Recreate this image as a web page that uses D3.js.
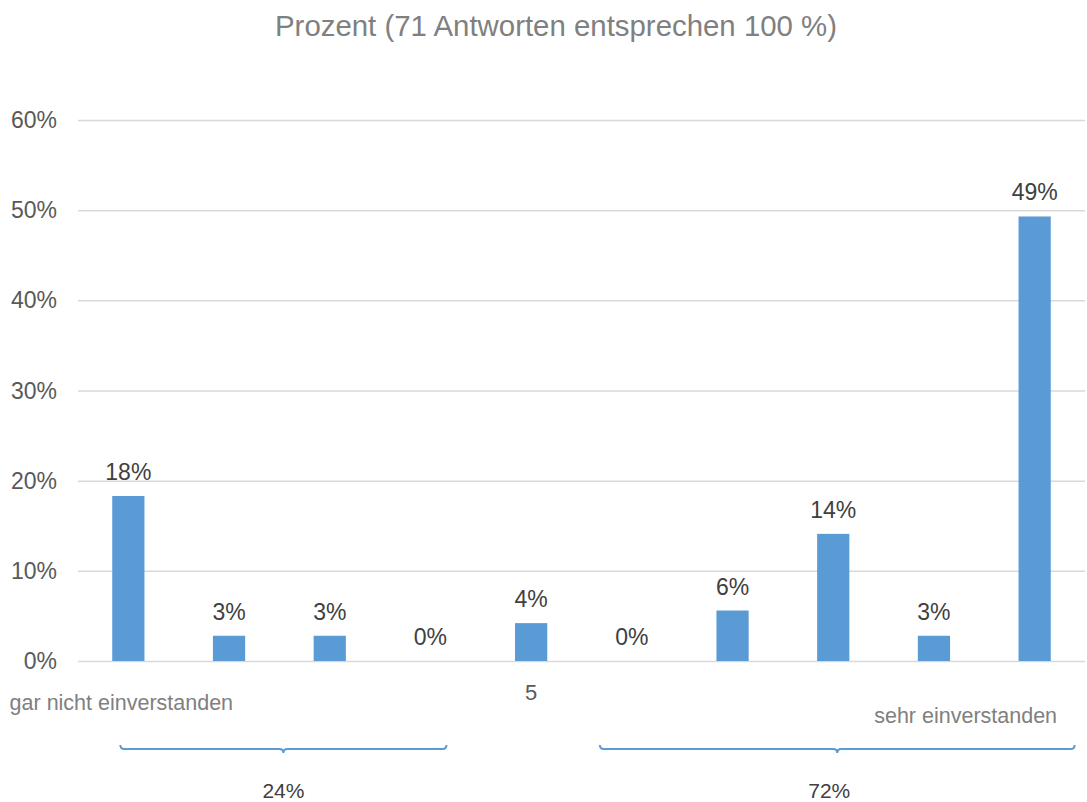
<!DOCTYPE html>
<html>
<head>
<meta charset="utf-8">
<script src="https://cdn.jsdelivr.net/npm/d3@7"></script>
<style>
	body { margin: 0; background: #fff; }
	svg text { font-family: "Liberation Sans", Arial, sans-serif; }
</style>
</head>
<body>
<div id="chart"></div>
<script>
// Antworten in Prozent (71 Antworten = 100 %)
var categories = ["1", "2", "3", "4", "5", "6", "7", "8", "9", "10"]
var values = [18.3, 2.8, 2.8, 0, 4.2, 0, 5.6, 14.1, 2.8, 49.3]
var valueLabels = ["18%", "3%", "3%", "0%", "4%", "0%", "6%", "14%", "3%", "49%"]
var yTicks = [0, 10, 20, 30, 40, 50, 60]
var axisLabels = ["gar nicht einverstanden", "", "", "", "5", "", "", "", "", "sehr einverstanden"]
var groupLabels = ["24%", "72%"]
var groupFrom = [0, 5]
var groupTo = [3, 9]

var WIDTH = 1087, HEIGHT = 802
var PLOT_LEFT = 78, PLOT_RIGHT = 1085, PLOT_TOP = 120, PLOT_BOTTOM = 661
var BAR_COLOR = "#5b9bd5"

var svg = d3.select("#chart").append("svg")
	.attr("width", WIDTH)
	.attr("height", HEIGHT)

var x = d3.scaleBand()
	.domain(categories)
	.range([PLOT_LEFT, PLOT_RIGHT])
	.paddingInner(0.68)
	.paddingOuter(0.34)

var y = d3.scaleLinear()
	.domain([0, 60])
	.range([PLOT_BOTTOM, PLOT_TOP])

function cx(i){ return x(categories[i]) + x.bandwidth()/2 }

svg.append("text")
	.attr("x", 556)
	.attr("y", 36)
	.attr("text-anchor", "middle")
	.style("font-size", "29.4px")
	.style("fill", "#808080")
	.text("Prozent (71 Antworten entsprechen 100 %)")

// gridlines
svg.selectAll(".grid")
	.data(yTicks)
	.enter()
	.append("line")
	.attr("class", "grid")
	.attr("x1", PLOT_LEFT)
	.attr("x2", PLOT_RIGHT)
	.attr("y1", function(d){ return y(d) + 0.5 })
	.attr("y2", function(d){ return y(d) + 0.5 })
	.style("stroke", "#d9d9d9")
	.style("stroke-width", 1.5)

svg.selectAll(".ytick")
	.data(yTicks)
	.enter()
	.append("text")
	.attr("class", "ytick")
	.attr("x", 57)
	.attr("y", function(d){ return y(d) + 8 })
	.attr("text-anchor", "end")
	.style("font-size", "23px")
	.style("fill", "#595959")
	.text(function(d){ return d + "%" })

svg.selectAll(".bar")
	.data(values)
	.enter()
	.append("rect")
	.attr("class", "bar")
	.attr("x", function(d,i){ return x(categories[i]) })
	.attr("y", function(d){ return y(d) })
	.attr("width", x.bandwidth())
	.attr("height", function(d){ return y(0) - y(d) })
	.style("fill", BAR_COLOR)

svg.selectAll(".valueLabel")
	.data(values)
	.enter()
	.append("text")
	.attr("class", "valueLabel")
	.attr("x", function(d,i){ return cx(i) })
	.attr("y", function(d){ return y(d) - 16 })
	.attr("text-anchor", "middle")
	.style("font-size", "23px")
	.style("fill", "#404040")
	.text(function(d,i){ return valueLabels[i] })

// category labels, staggered like the original
var labelDx = [-7, 0, 0, 0, 0, 0, 0, 0, 0, -69]
var labelDy = [49, 0, 0, 0, 39, 0, 0, 0, 0, 62]
var labelColor = ["#808080", "", "", "", "#595959", "", "", "", "", "#808080"]
svg.selectAll(".catLabel")
	.data(axisLabels)
	.enter()
	.append("text")
	.attr("class", "catLabel")
	.attr("x", function(d,i){ return cx(i) + labelDx[i] })
	.attr("y", function(d,i){ return y(0) + labelDy[i] })
	.attr("text-anchor", "middle")
	.style("font-size", function(d,i){ return i == 4 ? "22px" : "21.5px" })
	.style("fill", function(d,i){ return labelColor[i] })
	.text(function(d){ return d })

// curly brackets under the groups
var bracketPadLeft = [8, 32]
var bracketPadRight = [16, 40]
var BRACKET_Y = 749
function bracePath(x1, x2){
	var mid = (x1 + x2) / 2
	var r = 4
	return "M" + x1 + "," + (BRACKET_Y - r) +
		"Q" + x1 + "," + BRACKET_Y + " " + (x1 + r) + "," + BRACKET_Y +
		"L" + (mid - r) + "," + BRACKET_Y +
		"Q" + mid + "," + BRACKET_Y + " " + mid + "," + (BRACKET_Y + r) +
		"Q" + mid + "," + BRACKET_Y + " " + (mid + r) + "," + BRACKET_Y +
		"L" + (x2 - r) + "," + BRACKET_Y +
		"Q" + x2 + "," + BRACKET_Y + " " + x2 + "," + (BRACKET_Y - r)
}

svg.selectAll(".brace")
	.data(groupLabels)
	.enter()
	.append("path")
	.attr("class", "brace")
	.attr("d", function(d,i){
		return bracePath(cx(groupFrom[i]) - bracketPadLeft[i], cx(groupTo[i]) + bracketPadRight[i])
	})
	.style("fill", "none")
	.style("stroke", BAR_COLOR)
	.style("stroke-width", 2)

svg.selectAll(".groupLabel")
	.data(groupLabels)
	.enter()
	.append("text")
	.attr("class", "groupLabel")
	.attr("x", function(d,i){
		var mid = (cx(groupFrom[i]) - bracketPadLeft[i] + cx(groupTo[i]) + bracketPadRight[i]) / 2
		return i == 0 ? mid : mid - 8
	})
	.attr("y", 798)
	.attr("text-anchor", "middle")
	.style("font-size", "21px")
	.style("fill", "#404040")
	.text(function(d){ return d })
</script>
</body>
</html>
